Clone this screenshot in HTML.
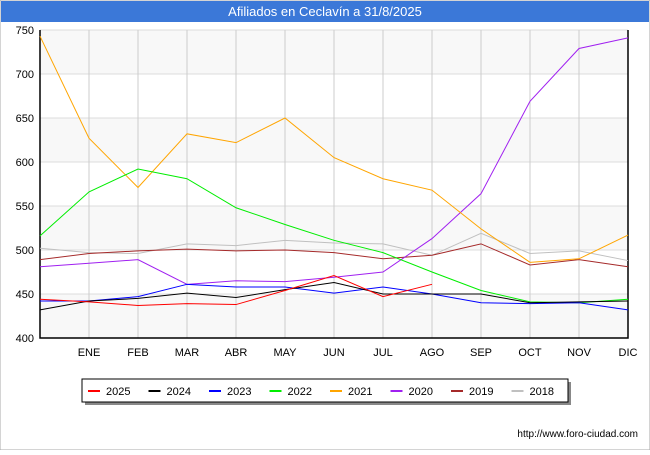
<!DOCTYPE html>
<html><head><meta charset="utf-8"><style>
body{margin:0;background:#fff;font-family:"Liberation Sans","DejaVu Sans",sans-serif}
</style></head><body>
<svg id="c" width="650" height="450" xmlns="http://www.w3.org/2000/svg">
<rect x="0" y="0" width="650" height="450" fill="#fff" stroke="#aaa"/>
<rect x="1" y="1" width="648" height="21" fill="#3b78d8"/>
<text x="325" y="16" text-anchor="middle" fill="#fff" font-size="13">Afiliados en Ceclavín a 31/8/2025</text>
<g id="plot"></g>
<text x="638" y="437" text-anchor="end" font-size="10" fill="#000">http://www.foro-ciudad.com</text>
</svg>
<script>
const months=["","ENE","FEB","MAR","ABR","MAY","JUN","JUL","AGO","SEP","OCT","NOV","DIC"];
const yTicks=[400,450,500,550,600,650,700,750];
const seriesNames=["2025","2024","2023","2022","2021","2020","2019","2018"];
const seriesColors=["#ff0000","#000000","#0000ff","#00ee00","#ffa500","#a020f0","#a52a2a","#c0c0c0"];
const s2025=[444,441,437,439,438,454,471,447,461];
const s2024=[432,442,445,451,446,455,463,450,450,450,440,441,442];
const s2023=[442,442,447,461,458,458,451,458,450,440,439,440,432];
const s2022=[516,566,592,581,548,529,511,497,475,454,441,440,444];
const s2021=[743,627,571,632,622,650,605,581,568,524,486,490,517];
const s2020=[481,485,489,461,465,464,469,475,513,564,669,729,741];
const s2019=[489,496,499,501,499,500,497,490,494,507,483,489,481];
const s2018=[502,497,496,507,505,511,508,507,494,519,496,499,488];
const allSeries=[s2025,s2024,s2023,s2022,s2021,s2020,s2019,s2018];
const NS="http://www.w3.org/2000/svg";
const X0=40,X1=628,Y0=338,Y1=30;
const xS=i=>X0+i*(X1-X0)/12;
const yS=v=>Y0-(v-400)*(Y0-Y1)/350;
const g=document.getElementById('plot');
function mk(t,a){const e=document.createElementNS(NS,t);for(const k in a)e.setAttribute(k,a[k]);g.appendChild(e);return e;}
for(let i=0;i<yTicks.length-1;i++){
 if(i%2===0){const r=mk('rect',{x:X0,y:yS(yTicks[i+1]),width:X1-X0,height:yS(yTicks[i])-yS(yTicks[i+1]),fill:'#f8f8f8'});
 
 }
}
yTicks.forEach(v=>{const l=mk('line',{x1:X0,x2:X1,y1:yS(v),y2:yS(v),stroke:'#ddd'});
 
 
 const t=mk('text',{x:X0-6,y:yS(v)+4,'text-anchor':'end','font-size':'11',fill:'#000'});t.textContent=v;
 
 });
months.forEach((m,i)=>{if(i>0){const l=mk('line',{x1:xS(i),x2:xS(i),y1:Y1,y2:Y0,stroke:'#ccc'});
 
 }
 const t=mk('text',{x:xS(i),y:Y0+18,'text-anchor':'middle','font-size':'11',fill:'#000'});t.textContent=m;
 
 });
const ax=mk('polyline',{points:`${X0},${Y1} ${X0},${Y0} ${X1},${Y0} ${X1},${Y1}`,fill:'none',stroke:'#000','stroke-width':1.5});


for(let k=allSeries.length-1;k>=0;k--){
 const p=mk('polyline',{points:allSeries[k].map((v,i)=>xS(i)+','+yS(v)).join(' '),fill:'none',stroke:seriesColors[k],'stroke-width':1});
 
 
}
const sh=mk('rect',{x:85,y:382,width:486,height:23,fill:'#888'});


const lb=mk('rect',{x:82,y:379,width:486,height:23,fill:'#fff',stroke:'#000'});


seriesNames.forEach((n,k)=>{const x=88+k*60.5;
 const l=mk('line',{x1:x,x2:x+12,y1:391,y2:391,stroke:seriesColors[k],'stroke-width':2});
 
 
 const t=mk('text',{x:x+18,y:395,'font-size':'11',fill:'#000'});t.textContent=n;
 
 });
</script>
</body></html>
